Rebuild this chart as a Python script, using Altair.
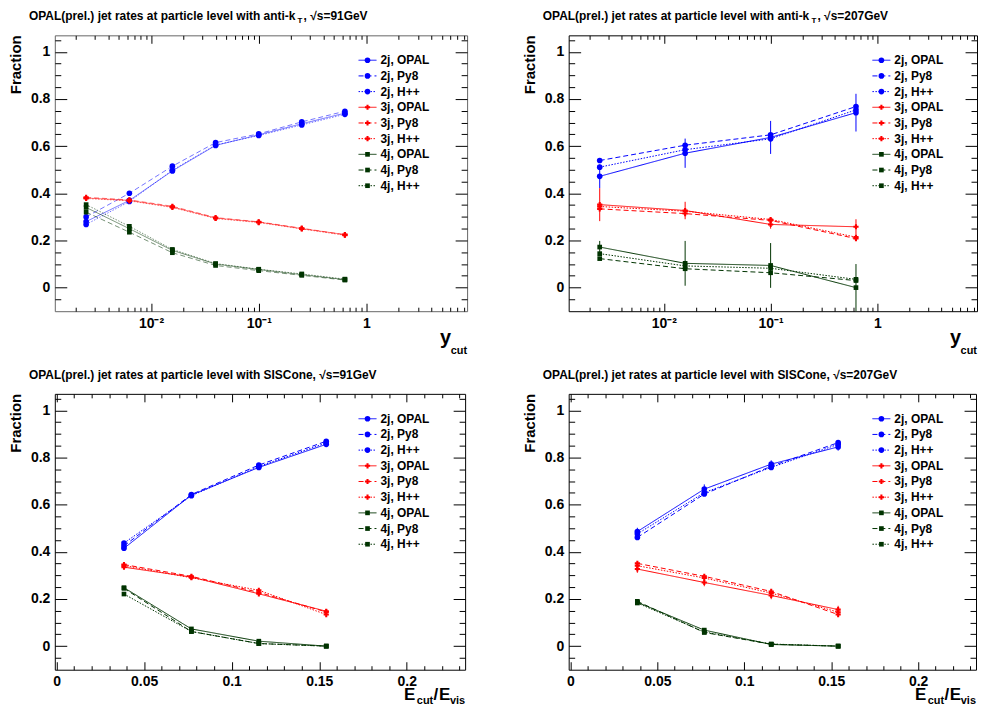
import altair as alt
import pandas as pd

FONT = "Liberation Sans"
NJETS = ["2j", "3j", "4j"]
SOURCES = ["OPAL", "Py8", "H++"]
JET_COLORS = ["#0000ff", "#ff0000", "#003300"]
JET_SHAPES = ["circle", "cross", "square"]
JET_SIZES = [32, 22, 45]
SRC_DASH = [[1, 0], [5, 3], [1.5, 1.5]]
LEGEND_LABELS = [f"{n}, {s}" for n in NJETS for s in SOURCES]

# ---------------- anti-kT, sqrt(s)=91 GeV ----------------
AKT91_YCUT = [0.0025, 0.0063, 0.0158, 0.0398, 0.1, 0.251, 0.631]
AKT91_2J_OPAL = [0.280, 0.370, 0.495, 0.603, 0.648, 0.695, 0.740]
AKT91_2J_PY8 = [0.300, 0.400, 0.515, 0.615, 0.652, 0.703, 0.748]
AKT91_2J_HPP = [0.268, 0.365, 0.498, 0.605, 0.645, 0.690, 0.735]
AKT91_3J_OPAL = [0.380, 0.370, 0.342, 0.295, 0.278, 0.250, 0.225]
AKT91_3J_PY8 = [0.383, 0.372, 0.345, 0.297, 0.279, 0.252, 0.224]
AKT91_3J_HPP = [0.378, 0.368, 0.340, 0.293, 0.276, 0.249, 0.222]
AKT91_4J_OPAL = [0.340, 0.250, 0.158, 0.100, 0.077, 0.055, 0.034]
AKT91_4J_PY8 = [0.320, 0.235, 0.148, 0.094, 0.072, 0.052, 0.032]
AKT91_4J_HPP = [0.352, 0.260, 0.162, 0.102, 0.078, 0.058, 0.036]
AKT91_ERR_2J = [0.006, 0.005, 0.005, 0.005, 0.004, 0.004, 0.004]
AKT91_ERR_3J = [0.005, 0.005, 0.004, 0.004, 0.004, 0.004, 0.004]
AKT91_ERR_4J = [0.006, 0.005, 0.004, 0.003, 0.003, 0.002, 0.002]

# ---------------- anti-kT, sqrt(s)=207 GeV ----------------
AKT207_YCUT = [0.0025, 0.0158, 0.1, 0.631]
AKT207_2J_OPAL = [0.472, 0.570, 0.637, 0.742]
AKT207_2J_PY8 = [0.539, 0.604, 0.648, 0.768]
AKT207_2J_HPP = [0.511, 0.585, 0.631, 0.754]
AKT207_3J_OPAL = [0.352, 0.327, 0.268, 0.258]
AKT207_3J_PY8 = [0.334, 0.314, 0.285, 0.208]
AKT207_3J_HPP = [0.344, 0.324, 0.289, 0.214]
AKT207_4J_OPAL = [0.172, 0.103, 0.094, 0.000]
AKT207_4J_PY8 = [0.123, 0.080, 0.063, 0.030]
AKT207_4J_HPP = [0.144, 0.092, 0.082, 0.035]
AKT207_ERR_2J = [0.050, 0.062, 0.070, 0.080]
AKT207_ERR_3J = [0.070, 0.037, 0.018, 0.032]
AKT207_ERR_4J = [0.026, 0.095, 0.095, 0.100]

# ---------------- SISCone, sqrt(s)=91 GeV ----------------
SIS91_ECUT = [0.0385, 0.077, 0.1155, 0.154]
SIS91_2J_OPAL = [0.415, 0.641, 0.758, 0.856]
SIS91_2J_PY8 = [0.425, 0.643, 0.768, 0.869]
SIS91_2J_HPP = [0.437, 0.638, 0.762, 0.862]
SIS91_3J_OPAL = [0.335, 0.293, 0.222, 0.148]
SIS91_3J_PY8 = [0.346, 0.296, 0.228, 0.145]
SIS91_3J_HPP = [0.342, 0.290, 0.237, 0.134]
SIS91_4J_OPAL = [0.248, 0.073, 0.021, 0.000]
SIS91_4J_PY8 = [0.245, 0.062, 0.011, 0.000]
SIS91_4J_HPP = [0.221, 0.062, 0.011, 0.000]
SIS91_ERR_2J = [0.006, 0.006, 0.006, 0.006]
SIS91_ERR_3J = [0.006, 0.006, 0.006, 0.006]
SIS91_ERR_4J = [0.005, 0.004, 0.002, 0.001]

# ---------------- SISCone, sqrt(s)=207 GeV ----------------
SIS207_ECUT = [0.0385, 0.077, 0.1155, 0.154]
SIS207_2J_OPAL = [0.486, 0.666, 0.772, 0.845]
SIS207_2J_PY8 = [0.461, 0.645, 0.763, 0.863]
SIS207_2J_HPP = [0.476, 0.651, 0.758, 0.856]
SIS207_3J_OPAL = [0.327, 0.270, 0.215, 0.155]
SIS207_3J_PY8 = [0.351, 0.296, 0.232, 0.134]
SIS207_3J_HPP = [0.341, 0.289, 0.225, 0.144]
SIS207_4J_OPAL = [0.186, 0.068, 0.007, 0.000]
SIS207_4J_PY8 = [0.190, 0.058, 0.008, 0.000]
SIS207_4J_HPP = [0.183, 0.060, 0.009, 0.000]
SIS207_ERR_2J = [0.016, 0.020, 0.016, 0.016]
SIS207_ERR_3J = [0.016, 0.016, 0.016, 0.016]
SIS207_ERR_4J = [0.010, 0.008, 0.004, 0.002]

# axis tick values
Y_MAJOR = [0, 0.2, 0.4, 0.6, 0.8, 1.0]
Y_MINOR = [-0.05, 0.05, 0.1, 0.15, 0.25, 0.3, 0.35, 0.45, 0.5, 0.55,
           0.65, 0.7, 0.75, 0.85, 0.9, 0.95, 1.05]
LOG_MAJOR = [0.01, 0.1, 1]
LOG_MINOR = [0.002, 0.003, 0.004, 0.005, 0.006, 0.007, 0.008, 0.009,
             0.02, 0.03, 0.04, 0.05, 0.06, 0.07, 0.08, 0.09,
             0.2, 0.3, 0.4, 0.5, 0.6, 0.7, 0.8, 0.9,
             2, 3, 4, 5, 6, 7, 8]
LIN_MAJOR = [0, 0.05, 0.1, 0.15, 0.2]
LIN_MINOR = [0.01, 0.02, 0.03, 0.04, 0.06, 0.07, 0.08, 0.09, 0.11, 0.12,
             0.13, 0.14, 0.16, 0.17, 0.18, 0.19, 0.21, 0.22, 0.23]

H = 277


def build_df(xs, s2, s3, s4, e2, e3, e4):
    series = {
        ("2j", "OPAL"): s2[0], ("2j", "Py8"): s2[1], ("2j", "H++"): s2[2],
        ("3j", "OPAL"): s3[0], ("3j", "Py8"): s3[1], ("3j", "H++"): s3[2],
        ("4j", "OPAL"): s4[0], ("4j", "Py8"): s4[1], ("4j", "H++"): s4[2],
    }
    errs = {"2j": e2, "3j": e3, "4j": e4}
    rows = []
    for (nj, src), ys in series.items():
        for i, (xv, yv) in enumerate(zip(xs, ys)):
            err = errs[nj][i] if src == "OPAL" else 0.0
            rows.append(dict(x=xv, y=yv, lo=yv - err, hi=yv + err,
                             njet=nj, src=src, has_err=err > 0))
    return pd.DataFrame(rows)


def text_layer(text, x, y, size, align="left", baseline="alphabetic", angle=0):
    return alt.Chart(pd.DataFrame({"t": [text]})).mark_text(
        align=align, baseline=baseline, fontSize=size, fontWeight="bold",
        font=FONT, angle=angle, color="black"
    ).encode(x=alt.value(x), y=alt.value(y), text="t:N")


def tick_axis(orient, values, size):
    return alt.Axis(orient=orient, values=values, tickSize=size, offset=-size,
                    labels=False, domain=False, grid=False, title=None,
                    ticks=True, tickColor="black", tickWidth=1)


color_enc = alt.Color("njet:N", scale=alt.Scale(domain=NJETS, range=JET_COLORS), legend=None)
dash_enc = alt.StrokeDash("src:N", scale=alt.Scale(domain=SOURCES, range=SRC_DASH), legend=None)
shape_enc = alt.Shape("njet:N", scale=alt.Scale(domain=NJETS, range=JET_SHAPES), legend=None)
size_enc = alt.Size("njet:N", scale=alt.Scale(domain=NJETS, range=JET_SIZES), legend=None)


def panel(df, width, logx, title_parts, frame_color, line_opacity):
    if logx:
        xscale = alt.Scale(type="log", domain=[0.00128, 8.6], nice=False)
        xmaj, xmin = LOG_MAJOR, LOG_MINOR
        xlab_axis = alt.Axis(values=LOG_MAJOR, ticks=False, tickSize=0, domain=False, grid=False,
                             title=None, labelPadding=5, orient="bottom",
                             labelExpr="datum.value >= 0.99 ? '1' : (datum.value >= 0.099 ? '10⁻¹' : '10⁻²')")
    else:
        xscale = alt.Scale(domain=[-0.001, 0.2333], nice=False, zero=False)
        xmaj, xmin = LIN_MAJOR, LIN_MINOR
        xlab_axis = alt.Axis(values=LIN_MAJOR, ticks=False, tickSize=0, domain=False, grid=False,
                             title=None, labelPadding=5, orient="bottom", format="~g")
    yscale = alt.Scale(domain=[-0.1, 1.07], nice=False, zero=False)
    ylab_axis = alt.Axis(values=Y_MAJOR, ticks=False, tickSize=0, domain=False, grid=False,
                         title=None, labelPadding=5, orient="left", format="~g")

    X = alt.X("x:Q", scale=xscale, axis=xlab_axis)
    Y = alt.Y("y:Q", scale=yscale, axis=ylab_axis)

    base = alt.Chart(df)
    lines = base.mark_line(strokeWidth=1, opacity=line_opacity).encode(
        x=X, y=Y, color=color_enc, strokeDash=dash_enc)
    errs = base.transform_filter("datum.has_err").mark_rule(strokeWidth=1).encode(
        x=X, y=alt.Y("lo:Q", scale=yscale, axis=ylab_axis), y2="hi:Q", color=color_enc)
    pts = base.mark_point(filled=True, opacity=1).encode(
        x=X, y=Y, color=color_enc, shape=shape_enc, size=size_enc)
    data_layer = alt.layer(lines, errs, pts)

    def tl(xo, xv, xs, yo, yv, ys):
        return base.mark_point(opacity=0).encode(
            x=alt.X("x:Q", scale=xscale, axis=tick_axis(xo, xv, xs)),
            y=alt.Y("y:Q", scale=yscale, axis=tick_axis(yo, yv, ys)))

    ticks = [
        tl("bottom", xmaj, 8, "left", Y_MAJOR, 12),
        tl("bottom", xmin, 4, "left", Y_MINOR, 6),
        tl("top", xmaj, 8, "right", Y_MAJOR, 12),
        tl("top", xmin, 4, "right", Y_MINOR, 6),
    ]
    plot = alt.layer(data_layer, *ticks).resolve_axis(x="independent", y="independent")

    # legend
    leg_df = pd.DataFrame({
        "label": LEGEND_LABELS,
        "njet": [n for n in NJETS for _ in SOURCES],
        "src": [s for _ in NJETS for s in SOURCES],
    })
    ly = alt.Y("label:N", sort=LEGEND_LABELS,
               scale=alt.Scale(type="point", range=[25, 151], padding=0), axis=None)
    lbase = alt.Chart(leg_df)
    leg = alt.layer(
        lbase.mark_rule(strokeWidth=1).encode(x=alt.value(305), x2=alt.value(323), y=ly,
                                             color=color_enc, strokeDash=dash_enc),
        lbase.mark_point(filled=True, opacity=1).encode(x=alt.value(314), y=ly, color=color_enc,
                                                        shape=shape_enc, size=size_enc),
        lbase.mark_text(align="left", baseline="middle", fontSize=12, fontWeight="bold",
                        font=FONT, color="black").encode(x=alt.value(327), y=ly, text="label:N"),
    )

    texts = []
    for (t, x, y, s) in title_parts:
        texts.append(text_layer(t, x, y, s))
    texts.append(text_layer("Fraction", -34, 0, 15, align="right", angle=270))
    if logx:
        texts.append(text_layer("y", width - 16, H + 33, 20, align="right"))
        texts.append(text_layer("cut", width, H + 43, 11, align="right"))
    else:
        texts.append(text_layer("vis", width, H + 34, 11, align="right"))
        texts.append(text_layer("E", width - 15, H + 30, 17, align="right"))
        texts.append(text_layer("/", width - 27, H + 30, 17, align="right"))
        texts.append(text_layer("cut", width - 32, H + 34, 11, align="right"))
        texts.append(text_layer("E", width - 50, H + 30, 17, align="right"))

    return alt.layer(plot, leg, *texts).resolve_scale(y="independent").properties(
        width=width, height=H, view=alt.ViewBackground(stroke=frame_color, strokeWidth=1))


TFS = 12
PART_A = "OPAL(prel.) jet rates at particle level with anti-k"
A_END = -26 + 22.4 * TFS


def akt_title(energy):
    return [(PART_A, -26, -15, TFS), ("T", A_END + 1, -12, 8),
            (f", √s={energy}GeV", A_END + 7, -15, TFS)]


def sis_title(energy):
    return [(f"OPAL(prel.) jet rates at particle level with SISCone,  √s={energy}GeV", -26, -15, TFS)]


df_tl = build_df(AKT91_YCUT, (AKT91_2J_OPAL, AKT91_2J_PY8, AKT91_2J_HPP),
                 (AKT91_3J_OPAL, AKT91_3J_PY8, AKT91_3J_HPP),
                 (AKT91_4J_OPAL, AKT91_4J_PY8, AKT91_4J_HPP),
                 AKT91_ERR_2J, AKT91_ERR_3J, AKT91_ERR_4J)
df_tr = build_df(AKT207_YCUT, (AKT207_2J_OPAL, AKT207_2J_PY8, AKT207_2J_HPP),
                 (AKT207_3J_OPAL, AKT207_3J_PY8, AKT207_3J_HPP),
                 (AKT207_4J_OPAL, AKT207_4J_PY8, AKT207_4J_HPP),
                 AKT207_ERR_2J, AKT207_ERR_3J, AKT207_ERR_4J)
df_bl = build_df(SIS91_ECUT, (SIS91_2J_OPAL, SIS91_2J_PY8, SIS91_2J_HPP),
                 (SIS91_3J_OPAL, SIS91_3J_PY8, SIS91_3J_HPP),
                 (SIS91_4J_OPAL, SIS91_4J_PY8, SIS91_4J_HPP),
                 SIS91_ERR_2J, SIS91_ERR_3J, SIS91_ERR_4J)
df_br = build_df(SIS207_ECUT, (SIS207_2J_OPAL, SIS207_2J_PY8, SIS207_2J_HPP),
                 (SIS207_3J_OPAL, SIS207_3J_PY8, SIS207_3J_HPP),
                 (SIS207_4J_OPAL, SIS207_4J_PY8, SIS207_4J_HPP),
                 SIS207_ERR_2J, SIS207_ERR_3J, SIS207_ERR_4J)

tl = panel(df_tl, 414, True, akt_title(91), "#666666", 0.55)
tr = panel(df_tr, 410, True, akt_title(207), "black", 1.0)
bl = panel(df_bl, 412, False, sis_title(91), "black", 1.0)
br = panel(df_br, 409, False, sis_title(207), "black", 1.0)

chart = alt.concat(tl, tr, bl, br, columns=2, spacing={"row": 83, "column": 102},
                   bounds="flush").properties(
    padding=0, background="white"
).configure_axis(
    labelFont=FONT, labelFontSize=14, labelFontWeight="bold", labelColor="black",
    tickColor="black"
).configure_view(stroke="black", strokeWidth=1)

chart.save("out.html", embed_options={"renderer": "svg", "actions": False})
